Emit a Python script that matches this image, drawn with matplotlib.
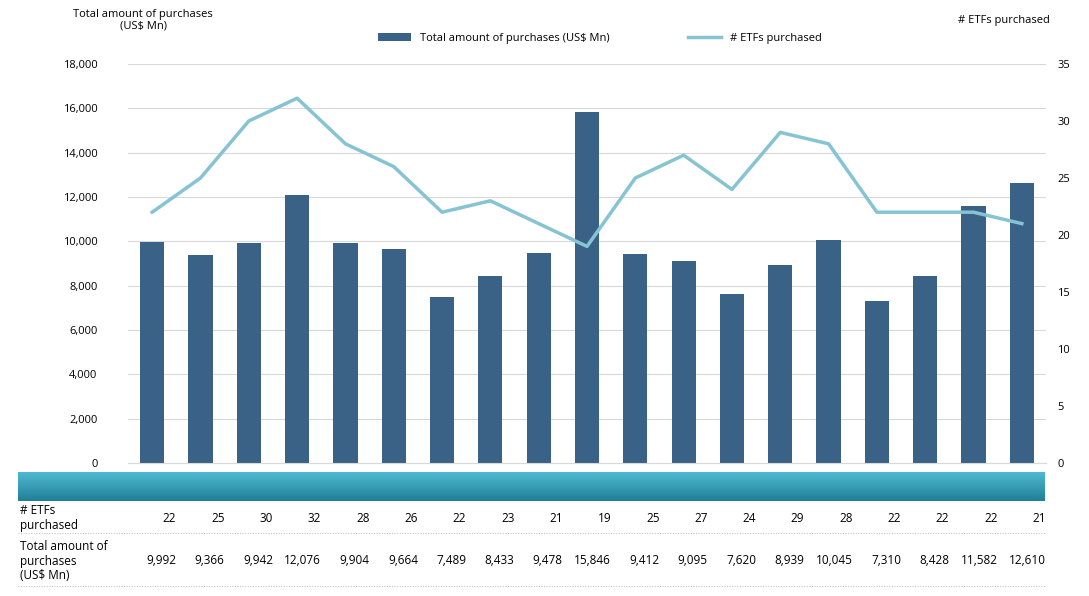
import matplotlib
matplotlib.use("Agg")
import matplotlib.pyplot as plt
import matplotlib.transforms as mtransforms
import numpy as np

months = ["Jan-25","Feb-25","Mar-25","Apr-25","May-25","Jun-25","Jul-25","Aug-25","Sep-25","Oct-25",
          "Nov-25","Dec-25","Jan-26","Feb-26","Mar-26","Apr-26","May-26","Jun-26","Jul-26"]
etfs = [22,25,30,32,28,26,22,23,21,19,25,27,24,29,28,22,22,22,21]
amounts = [9992,9366,9942,12076,9904,9664,7489,8433,9478,15846,9412,9095,7620,8939,10045,7310,8428,11582,12610]

plt.rcParams['font.family'] = ['Open Sans', 'DejaVu Sans']
W, H = 1089, 596
fig = plt.figure(figsize=(W/100, H/100), dpi=100)
ax = fig.add_axes([128/W, 1-463/H, 918/W, 399/H])
x = np.arange(len(months))
bar_c = "#3a6186"; line_c = "#86c3d3"
ax.bar(x, amounts, width=0.5, color=bar_c, label="Total amount of purchases (US$ Mn)", zorder=2)
ax.set_xlim(-0.5, len(months)-0.5)
ax.set_ylim(0, 18000)
ax.set_yticks(range(0, 18001, 2000))
ax.set_yticklabels([f"{v:,}" for v in range(0, 18001, 2000)], fontsize=8)
ax.grid(axis='y', color='#d9d9d9', lw=0.8, zorder=0)
ax.set_xticks([])
for s in ['top','right','left']:
    ax.spines[s].set_visible(False)
ax.spines['bottom'].set_color('#d9d9d9')
ax.tick_params(axis='y', length=0, pad=22)
ax2 = ax.twinx()
ax2.plot(x, etfs, color=line_c, lw=2.5, label="# ETFs purchased", zorder=3)
ax2.set_ylim(0, 35)
ax2.set_yticks(range(0, 36, 5))
ax2.tick_params(axis='y', length=0, labelsize=8, pad=8)
for s in ax2.spines.values():
    s.set_visible(False)

fig.text(143/W, 1-20/H, "Total amount of purchases\n(US$ Mn)", fontsize=8, ha='center', va='center', linespacing=1.1)
fig.text(1050/W, 1-20/H, "# ETFs purchased", fontsize=8, ha='right', va='center')
h1, l1 = ax.get_legend_handles_labels(); h2, l2 = ax2.get_legend_handles_labels()
fig.legend(h1+h2, l1+l2, loc='center', bbox_to_anchor=(600/W, 1-38/H), ncol=2, frameon=False,
           fontsize=8, columnspacing=7, handlelength=3)

# gradient strip
gax = fig.add_axes([18/W, 1-501/H, 1027/W, 29/H])
grad = np.linspace(0, 1, 50).reshape(-1, 1)
from matplotlib.colors import LinearSegmentedColormap
cm = LinearSegmentedColormap.from_list("g", ["#4fbcd3", "#217f98"])
gax.imshow(grad, aspect='auto', cmap=cm, extent=[0, 1, 0, 1])
gax.axis('off')

tr = mtransforms.blended_transform_factory(ax.transData, fig.transFigure)
for i, m in enumerate(months):
    fig.text(i + 0.47, 0, "", transform=tr)
    ax.text(i + 0.5, 1-493/H, m, transform=tr, ha='right', va='center', fontsize=8.5,
            fontweight='bold', color='white')
    ax.text(i + 0.5, 1-518/H, str(etfs[i]), transform=tr, ha='right', va='center', fontsize=8.5)
    ax.text(i + 0.5, 1-561/H, f"{amounts[i]:,}", transform=tr, ha='right', va='center', fontsize=8.5)
fig.text(20/W, 1-518/H, "# ETFs\npurchased", fontsize=8.5, va='center', linespacing=1.2)
fig.text(20/W, 1-561/H, "Total amount of\npurchases\n(US$ Mn)", fontsize=8.5, va='center', linespacing=1.15)
for yy in [533, 586]:
    fig.add_artist(plt.Line2D([18/W, 1045/W], [1-yy/H]*2, color='#bbbbbb', lw=0.7, ls=':'))
fig.savefig("out.png", dpi=100)
